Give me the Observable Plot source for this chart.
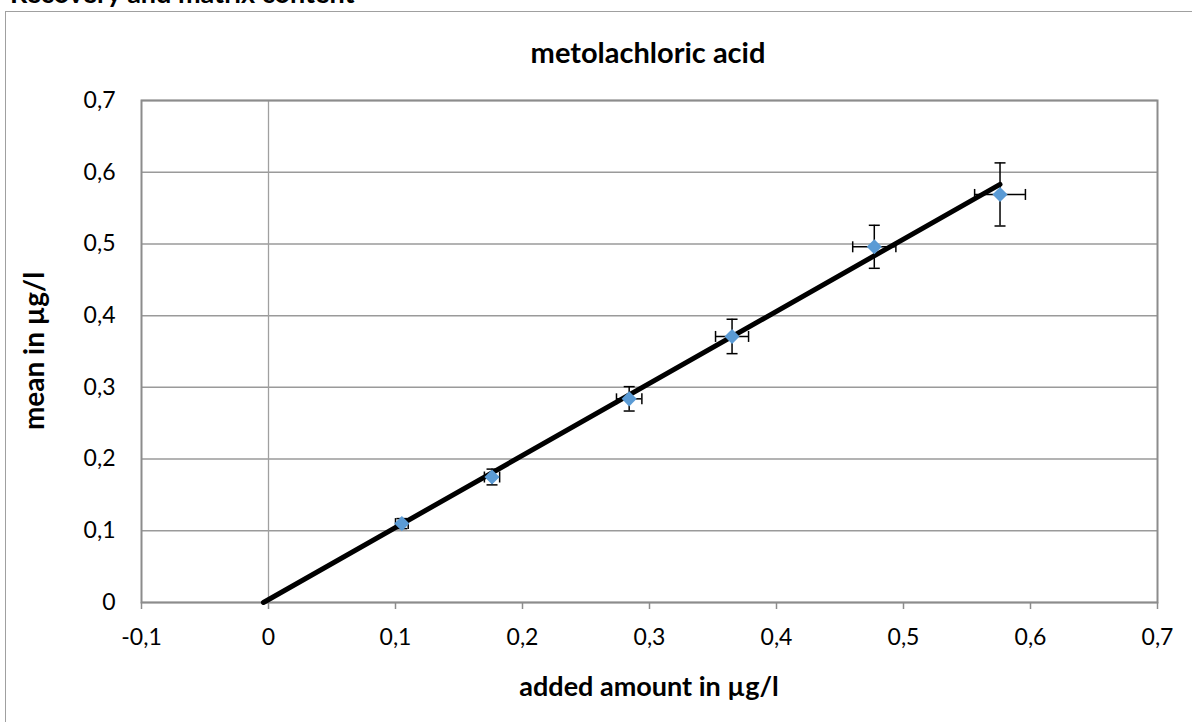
<!DOCTYPE html>
<html>
<head>
<meta charset="utf-8">
<script src="https://cdn.jsdelivr.net/npm/d3@7"></script>
<script src="https://cdn.jsdelivr.net/npm/@observablehq/plot@0.6"></script>
<style>
  html, body { margin: 0; padding: 0; background: #fff; }
  #wrap { position: relative; width: 1192px; height: 722px; overflow: hidden; font-family: Lato, "Open Sans", sans-serif; }
  #outer { position: absolute; left: 5px; top: 11px; width: 1400px; height: 900px; border: 1.5px solid #a0a0a0; }
  .t { position: absolute; font-weight: bold; color: #000; white-space: nowrap; line-height: 1.2; }
  #suptitle { left: 10px; top: -23px; font-size: 27px; }
  #title { left: 648px; top: 35px; transform: translateX(-50%); font-size: 29px; }
  #xlabel { left: 649px; top: 670px; transform: translateX(-50%); font-size: 27px; }
  #ylabel { left: 34px; top: 351px; transform: translate(-50%, -50%) rotate(-90deg); font-size: 28px; }
  #chart { position: absolute; left: 0; top: 0; }
</style>
</head>
<body>
<div id="wrap">
  <div id="outer"></div>
  <div class="t" id="suptitle">Recovery and matrix content</div>
  <div class="t" id="title">metolachloric acid</div>
  <div class="t" id="xlabel">added amount in µg/l</div>
  <div class="t" id="ylabel">mean in µg/l</div>
  <div id="chart"></div>
</div>
<script>
// Data
const addedAmount = [0.105, 0.176, 0.284, 0.365, 0.477, 0.576];
const meanValue   = [0.110, 0.175, 0.284, 0.371, 0.496, 0.569];
const sdMean      = [0.007, 0.011, 0.017, 0.024, 0.030, 0.044];
const sdAdded     = [0.005, 0.006, 0.010, 0.013, 0.017, 0.020];
const trendX = [-0.004, 0.576];
const trendY = [0, 0.583];
const xTicks = [-0.1, 0, 0.1, 0.2, 0.3, 0.4, 0.5, 0.6, 0.7];
const yTicks = [0, 0.1, 0.2, 0.3, 0.4, 0.5, 0.6, 0.7];

const points = addedAmount.map((x, i) => ({x, y: meanValue[i], ey: sdMean[i], ex: sdAdded[i]}));
const trend = trendX.map((x, i) => ({x, y: trendY[i]}));

const fmt = d => Math.abs(d) < 1e-9 ? "0" : d.toFixed(1).replace(".", ",");

const hCap = {draw(ctx) { ctx.moveTo(-5.5, 0); ctx.lineTo(5.5, 0); }};
const vCap = {draw(ctx) { ctx.moveTo(0, -5.5); ctx.lineTo(0, 5.5); }};

const chart = Plot.plot({
  width: 1192,
  height: 722,
  marginLeft: 141,
  marginRight: 35,
  marginTop: 100,
  marginBottom: 120,
  style: {fontFamily: "Lato, 'Open Sans', sans-serif", fontSize: "23px", color: "#000", background: "transparent"},
  x: {domain: [-0.1, 0.7]},
  y: {domain: [0, 0.7]},
  marks: [
    Plot.gridY(yTicks, {stroke: "#9a9a9a", strokeOpacity: 1, strokeWidth: 1.5}),
    Plot.ruleX([0], {stroke: "#a0a0a0", strokeWidth: 1.3}),
    Plot.frame({stroke: "#8c8c8c", strokeWidth: 2}),
    Plot.axisX(xTicks, {tickFormat: fmt, tickSize: 7, tickPadding: 19, stroke: "#8c8c8c", strokeWidth: 1.5, fill: "#000", label: null}),
    Plot.axisY(yTicks, {tickFormat: fmt, tickSize: 0, tickPadding: 26, fill: "#000", label: null}),
    // error bars
    Plot.ruleX(points, {x: "x", y1: d => d.y - d.ey, y2: d => d.y + d.ey, stroke: "#000", strokeWidth: 1.5}),
    Plot.ruleY(points, {y: "y", x1: d => d.x - d.ex, x2: d => d.x + d.ex, stroke: "#000", strokeWidth: 1.5}),
    Plot.dot(points, {x: "x", y: d => d.y - d.ey, symbol: hCap, stroke: "#000", strokeWidth: 1.5}),
    Plot.dot(points, {x: "x", y: d => d.y + d.ey, symbol: hCap, stroke: "#000", strokeWidth: 1.5}),
    Plot.dot(points, {x: d => d.x - d.ex, y: "y", symbol: vCap, stroke: "#000", strokeWidth: 1.5}),
    Plot.dot(points, {x: d => d.x + d.ex, y: "y", symbol: vCap, stroke: "#000", strokeWidth: 1.5}),
    // trendline
    Plot.line(trend, {x: "x", y: "y", stroke: "#000", strokeWidth: 5, strokeLinecap: "round"}),
    // markers
    Plot.dot(points, {x: "x", y: "y", symbol: "diamond2", r: 6.8, fill: "#5B9BD5", stroke: null})
  ]
});
document.getElementById("chart").appendChild(chart);
</script>
</body>
</html>
